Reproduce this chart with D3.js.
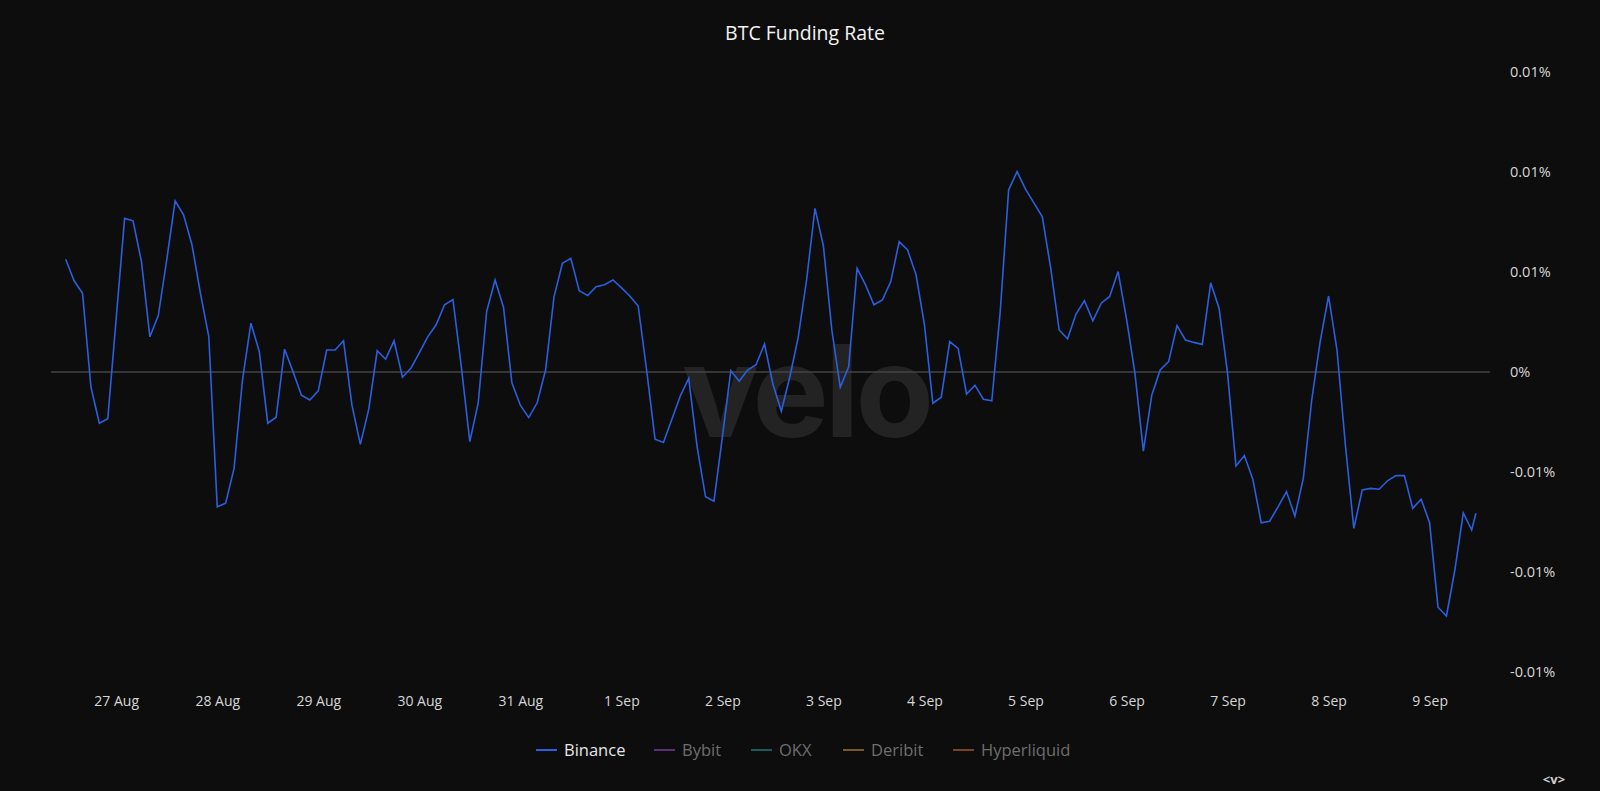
<!DOCTYPE html>
<html>
<head>
<meta charset="utf-8">
<script src="https://cdn.jsdelivr.net/npm/d3@7"></script>
<style>
  html, body { margin: 0; padding: 0; background: #0d0d0d; }
  svg { display: block; }
</style>
</head>
<body>
<svg id="chart" width="1600" height="791"></svg>
<script>
// ---------- DATA ----------
const title = "BTC Funding Rate";
const seriesNames = ["Binance", "Bybit", "OKX", "Deribit", "Hyperliquid"];
const seriesColors = ["#2b5fe0", "#5e2f78", "#1d5a60", "#7a5a1e", "#7a4420"];
const startTime = Date.UTC(2025, 7, 26, 12);     // first 2h funding sample
const stepHours = 2;
const latestTime = Date.UTC(2025, 8, 9, 11);     // live (partial) last sample
// Binance funding rate, % (2-hourly samples, last one live)
const binance = [
  0.00282, 0.00228, 0.00197, -0.00038, -0.00128, -0.00117, 0.00134, 0.00384, 0.00378, 0.00276,
  0.00088, 0.00141, 0.00280, 0.00428, 0.00393, 0.00318, 0.00197, 0.00088, -0.00337, -0.00328,
  -0.00241, -0.00020, 0.00122, 0.00051, -0.00128, -0.00113, 0.00057, 0.00001, -0.00058, -0.00070,
  -0.00047, 0.00055, 0.00055, 0.00078, -0.00083, -0.00181, -0.00093, 0.00053, 0.00032, 0.00078,
  -0.00013, 0.00009, 0.00048, 0.00088, 0.00118, 0.00168, 0.00181, 0.00012, -0.00174, -0.00077,
  0.00151, 0.00230, 0.00162, -0.00027, -0.00083, -0.00114, -0.00077, 0.00005, 0.00188, 0.00272,
  0.00284, 0.00203, 0.00191, 0.00213, 0.00218, 0.00230, 0.00211, 0.00190, 0.00165, 0.00005,
  -0.00168, -0.00176, -0.00118, -0.00060, -0.00016, -0.00187, -0.00312, -0.00323, -0.00162, 0.00003,
  -0.00023, 0.00005, 0.00018, 0.00070, -0.00030, -0.00098, -0.00013, 0.00086, 0.00230, 0.00409,
  0.00315, 0.00105, -0.00038, 0.00013, 0.00259, 0.00218, 0.00168, 0.00180, 0.00226, 0.00326,
  0.00305, 0.00243, 0.00118, -0.00078, -0.00063, 0.00076, 0.00059, -0.00055, -0.00033, -0.00068,
  -0.00072, 0.00151, 0.00455, 0.00501, 0.00457, 0.00423, 0.00388, 0.00259, 0.00105, 0.00083,
  0.00145, 0.00178, 0.00128, 0.00172, 0.00189, 0.00251, 0.00133, -0.00003, -0.00198, -0.00058,
  0.00005, 0.00026, 0.00116, 0.00080, 0.00074, 0.00069, 0.00223, 0.00159, -0.00003, -0.00235,
  -0.00209, -0.00268, -0.00377, -0.00373, -0.00337, -0.00299, -0.00360, -0.00266, -0.00070, 0.00076,
  0.00190, 0.00055, -0.00183, -0.00391, -0.00295, -0.00291, -0.00293, -0.00272, -0.00259, -0.00259,
  -0.00341, -0.00318, -0.00377, -0.00588, -0.00610, -0.00495, -0.00352, -0.00395, -0.00353
];
const xTickDates = [
  Date.UTC(2025,7,27), Date.UTC(2025,7,28), Date.UTC(2025,7,29), Date.UTC(2025,7,30),
  Date.UTC(2025,7,31), Date.UTC(2025,8,1), Date.UTC(2025,8,2), Date.UTC(2025,8,3),
  Date.UTC(2025,8,4), Date.UTC(2025,8,5), Date.UTC(2025,8,6), Date.UTC(2025,8,7),
  Date.UTC(2025,8,8), Date.UTC(2025,8,9)
];
const xTickLabels = ["27 Aug","28 Aug","29 Aug","30 Aug","31 Aug","1 Sep","2 Sep","3 Sep","4 Sep","5 Sep","6 Sep","7 Sep","8 Sep","9 Sep"];
const yTickValues = [0.0075, 0.005, 0.0025, 0, -0.0025, -0.005, -0.0075];
const yTickLabels = ["0.01%", "0.01%", "0.01%", "0%", "-0.01%", "-0.01%", "-0.01%"];

// ---------- LAYOUT ----------
const W = 1600, H = 791;
const plotLeft = 51, plotRight = 1490;
const FONT = "'Open Sans', 'Lato', sans-serif";

const svg = d3.select("#chart");
svg.append("rect").attr("width", W).attr("height", H).attr("fill", "#0d0d0d");

const times = binance.map((d, i) => i === binance.length - 1 ? new Date(latestTime) : new Date(startTime + i * stepHours * 3600e3));

const x = d3.scaleUtc()
  .domain([new Date(xTickDates[0]), new Date(xTickDates[xTickDates.length - 1])])
  .range([116.2, 1429.6]);
const y = d3.scaleLinear().domain([-0.0075, 0.0075]).range([672, 72]);

// watermark
svg.append("text")
  .attr("x", 806).attr("y", 437)
  .attr("text-anchor", "middle")
  .attr("font-family", "'Inter', 'Lato', sans-serif")
  .attr("font-weight", 700)
  .attr("font-size", 128)
  .attr("letter-spacing", -4)
  .attr("fill", "#232323")
  .text("velo");

// title
svg.append("text")
  .attr("x", 805).attr("y", 40)
  .attr("text-anchor", "middle")
  .attr("font-family", FONT)
  .attr("font-size", 19.5)
  .attr("font-weight", 500)
  .attr("fill", "#f2f2f2")
  .text(title);

// zero line
svg.append("line")
  .attr("x1", plotLeft).attr("x2", plotRight)
  .attr("y1", y(0)).attr("y2", y(0))
  .attr("stroke", "#444").attr("stroke-width", 1.5);

// y axis (right)
const yAxis = d3.axisRight(y)
  .tickValues(yTickValues)
  .tickSize(0)
  .tickPadding(0)
  .tickFormat((d, i) => yTickLabels[i]);
const gy = svg.append("g").attr("transform", `translate(1510,0)`).call(yAxis);
gy.select(".domain").remove();
gy.selectAll("text")
  .attr("font-family", FONT).attr("font-size", 14.5)
  .attr("fill", "#d6d6d6").attr("text-anchor", "start");

// x axis
const xAxis = d3.axisBottom(x)
  .tickValues(xTickDates.map(d => new Date(d)))
  .tickSize(0)
  .tickPadding(0)
  .tickFormat((d, i) => xTickLabels[i]);
const gx = svg.append("g").attr("transform", `translate(0,696)`).call(xAxis);
gx.select(".domain").remove();
gx.selectAll("text")
  .attr("font-family", FONT).attr("font-size", 14)
  .attr("fill", "#d6d6d6");

// line
const line = d3.line()
  .x((d, i) => x(times[i]))
  .y(d => y(d));
svg.append("path")
  .datum(binance)
  .attr("d", line)
  .attr("fill", "none")
  .attr("stroke", seriesColors[0])
  .attr("stroke-width", 1.6)
  .attr("stroke-linejoin", "miter");

// legend
const legendX = [536, 654, 751, 843, 953];
const lg = svg.append("g").attr("transform", "translate(0,750)");
seriesNames.forEach((name, i) => {
  const g = lg.append("g").attr("transform", `translate(${legendX[i]},0)`);
  g.append("line").attr("x1", 0).attr("x2", 21).attr("y1", 0).attr("y2", 0)
    .attr("stroke", seriesColors[i]).attr("stroke-width", 2);
  g.append("text").attr("x", 28).attr("y", 0).attr("dy", "0.35em")
    .attr("font-family", FONT).attr("font-size", 16.5)
    .attr("fill", i === 0 ? "#e6e6e6" : "#6e6e6e")
    .text(name);
});

// nav glyph
svg.append("text")
  .attr("x", 1554).attr("y", 784)
  .attr("text-anchor", "middle")
  .attr("font-family", FONT).attr("font-size", 13).attr("font-weight", 700)
  .attr("fill", "#d0d0d0")
  .text("<v>");
</script>
</body>
</html>
